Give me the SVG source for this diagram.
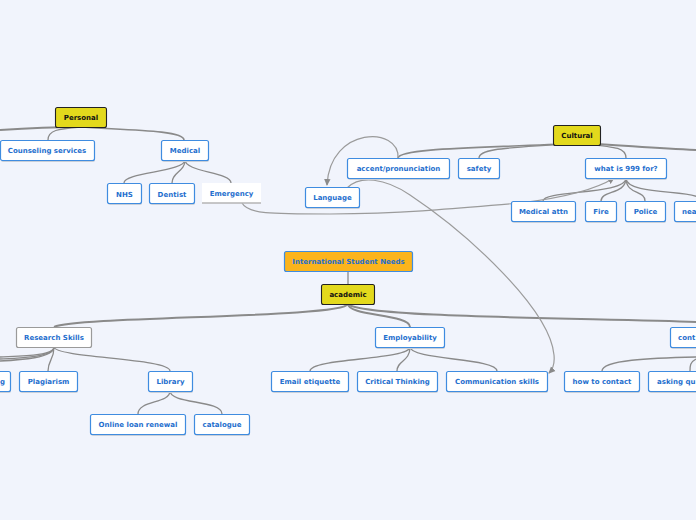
<svg xmlns="http://www.w3.org/2000/svg" width="696" height="520" viewBox="0 0 696 520">
<style>
.bg{fill:#f1f4fc}
.n rect{fill:#fff;stroke:#3f8ce0;stroke-width:1.2}
.n text{font-family:"DejaVu Sans",Verdana,sans-serif;font-weight:bold;font-size:7px;fill:#1f6fce;text-anchor:middle}
.y rect{fill:#e3d91c;stroke:#222;stroke-width:1.1}
.y text{fill:#111}
.o rect{fill:#fbb41c;stroke:#3f8ce0}
.g rect{stroke:#9a9a9a}
.c path{fill:none;stroke:#8a8a8a;stroke-width:1.3}
.c .t{stroke-width:2}
.c .m{stroke-width:1.6}
.c .x{stroke:#9b9b9b;stroke-width:1.2;marker-end:url(#ar)}
</style>
<defs>
<marker id="ar" markerWidth="8" markerHeight="8" refX="6" refY="4" orient="auto" markerUnits="userSpaceOnUse">
<path d="M0,0.8 L7,4 L0,7.2 Z" fill="#8a8a8a"/>
</marker>
</defs>
<rect class="bg" width="696" height="520"/>
<g id="connectors" class="c">
<path class="t" d="M0,130 C30,128 55,127 80,127"/>
<path d="M80,127 C58,129 48,130 48,140"/>
<path class="m" d="M80,127 C125,130 184,130 184,140"/>
<path d="M185,160 C185,172 124,172 124,183"/>
<path d="M185,160 C185,172 172,172 172,183"/>
<path d="M185,160 C185,172 231,172 231,183"/>
<path class="m" d="M577,143 C500,148 400,147 398,158"/>
<path d="M577,143 C520,148 479,147 479,158"/>
<path d="M577,143 C615,147 626,147 626,158"/>
<path class="t" d="M577,143 C620,145 650,148 696,150"/>
<path d="M626,178 C626,195 543,190 543,201"/>
<path d="M626,178 C626,195 601,190 601,201"/>
<path d="M626,178 C626,195 645,190 645,201"/>
<path d="M626,178 C626,195 690,190 700,198"/>
<path d="M348,271 L348,284"/>
<path class="t" d="M348,304 C342,318 80,316 54,327"/>
<path class="t" d="M348,304 C348,316 410,314 410,327"/>
<path class="t" d="M348,304 C360,318 600,318 696,322"/>
<path d="M54,347 C54,356 20,356 0,357"/>
<path d="M54,347 C54,357 20,358 0,359"/>
<path d="M54,347 C54,358 20,360 0,361"/>
<path d="M54,347 C54,360 48,360 48,371"/>
<path d="M54,347 C56,358 170,358 170,371"/>
<path d="M170,391 C170,404 138,400 138,414"/>
<path d="M170,391 C170,404 222,400 222,414"/>
<path d="M410,347 C410,360 310,358 310,371"/>
<path d="M410,347 C410,362 397,360 397,371"/>
<path d="M410,347 C410,360 497,358 497,371"/>
<path d="M696,357 C650,358 602,360 602,371"/>
<path d="M696,359 C690,362 690,366 690,371"/>
<path class="x" d="M242,203 C248,214 270,214 330,214 C420,213 470,207 520,203 C570,197 598,188 614,178"/>
<path class="x" d="M398,158 C400,126 330,126 327,185"/>
<path class="x" d="M347,188 C360,175 385,178 410,195 C470,235 550,310 554,355 C555,365 552,370 549,373"/>
</g>
<g id="personal" class="n y"><rect x="55.5" y="107.5" width="51" height="20" rx="2"/><text x="81" y="120">Personal</text></g>
<g id="counseling" class="n"><rect x="1" y="142" width="94" height="20" rx="2" style="fill:#c9cfd8;stroke:none"/><rect x="0.5" y="140.5" width="94" height="20" rx="2"/><text x="47" y="153">Counseling services</text></g>
<g id="medical" class="n"><rect x="162" y="142" width="47" height="20" rx="2" style="fill:#c9cfd8;stroke:none"/><rect x="161.5" y="140.5" width="47" height="20" rx="2"/><text x="185" y="153">Medical</text></g>
<g id="nhs" class="n"><rect x="108" y="185" width="34" height="20" rx="2" style="fill:#c9cfd8;stroke:none"/><rect x="107.5" y="183.5" width="34" height="20" rx="2"/><text x="124.5" y="196.5">NHS</text></g>
<g id="dentist" class="n"><rect x="150" y="185" width="45" height="20" rx="2" style="fill:#c9cfd8;stroke:none"/><rect x="149.5" y="183.5" width="45" height="20" rx="2"/><text x="172" y="196.5">Dentist</text></g>
<g id="emergency" class="n"><rect x="202" y="183" width="59" height="20" style="fill:#fff;stroke:none"/><line x1="202" y1="203" x2="261" y2="203" stroke="#b5b5b5" stroke-width="1.5"/><text x="231.5" y="195.5">Emergency</text></g>
<g id="cultural" class="n y"><rect x="553.5" y="125.5" width="47" height="20" rx="2"/><text x="577" y="138">Cultural</text></g>
<g id="accent" class="n"><rect x="348" y="160" width="102" height="20" rx="2" style="fill:#c9cfd8;stroke:none"/><rect x="347.5" y="158.5" width="102" height="20" rx="2"/><text x="398.5" y="171">accent/pronunciation</text></g>
<g id="safety" class="n"><rect x="459" y="160" width="41" height="20" rx="2" style="fill:#c9cfd8;stroke:none"/><rect x="458.5" y="158.5" width="41" height="20" rx="2"/><text x="479" y="171">safety</text></g>
<g id="what999" class="n"><rect x="586" y="160" width="81" height="20" rx="2" style="fill:#c9cfd8;stroke:none"/><rect x="585.5" y="158.5" width="81" height="20" rx="2"/><text x="626" y="171">what is 999 for?</text></g>
<g id="language" class="n"><rect x="306" y="189" width="54" height="20" rx="2" style="fill:#c9cfd8;stroke:none"/><rect x="305.5" y="187.5" width="54" height="20" rx="2"/><text x="332.5" y="200">Language</text></g>
<g id="medattn" class="n"><rect x="512" y="203" width="64" height="20" rx="2" style="fill:#c9cfd8;stroke:none"/><rect x="511.5" y="201.5" width="64" height="20" rx="2"/><text x="543.5" y="214">Medical attn</text></g>
<g id="fire" class="n"><rect x="586" y="203" width="31" height="20" rx="2" style="fill:#c9cfd8;stroke:none"/><rect x="585.5" y="201.5" width="31" height="20" rx="2"/><text x="601" y="214">Fire</text></g>
<g id="police" class="n"><rect x="626" y="203" width="40" height="20" rx="2" style="fill:#c9cfd8;stroke:none"/><rect x="625.5" y="201.5" width="40" height="20" rx="2"/><text x="645.5" y="214">Police</text></g>
<g id="nea" class="n"><rect x="675" y="203" width="60" height="20" rx="2" style="fill:#c9cfd8;stroke:none"/><rect x="674.5" y="201.5" width="60" height="20" rx="2"/><text x="682" y="214" style="text-anchor:start">nea</text></g>
<g id="root" class="n o"><rect x="284.5" y="251.5" width="128" height="20" rx="2"/><text x="348.5" y="264">International Student Needs</text></g>
<g id="academic" class="n y"><rect x="321.5" y="284.5" width="53" height="20" rx="2"/><text x="348" y="297">academic</text></g>
<g id="research" class="n g"><rect x="16.5" y="327.5" width="75" height="20" rx="2"/><text x="54" y="340">Research Skills</text></g>
<g id="employability" class="n"><rect x="376" y="329" width="69" height="20" rx="2" style="fill:#c9cfd8;stroke:none"/><rect x="375.5" y="327.5" width="69" height="20" rx="2"/><text x="410" y="340">Employability</text></g>
<g id="cont" class="n"><rect x="671" y="329" width="40" height="20" rx="2" style="fill:#c9cfd8;stroke:none"/><rect x="670.5" y="327.5" width="40" height="20" rx="2"/><text x="678" y="340" style="text-anchor:start">cont</text></g>
<g id="gnode" class="n"><rect x="-19" y="373" width="30" height="20" rx="2" style="fill:#c9cfd8;stroke:none"/><rect x="-19.5" y="371.5" width="30" height="20" rx="2"/><text x="5" y="384" style="text-anchor:end">g</text></g>
<g id="plagiarism" class="n"><rect x="20" y="373" width="58" height="20" rx="2" style="fill:#c9cfd8;stroke:none"/><rect x="19.5" y="371.5" width="58" height="20" rx="2"/><text x="48.5" y="384">Plagiarism</text></g>
<g id="library" class="n"><rect x="149" y="373" width="44" height="20" rx="2" style="fill:#c9cfd8;stroke:none"/><rect x="148.5" y="371.5" width="44" height="20" rx="2"/><text x="170.5" y="384">Library</text></g>
<g id="loan" class="n"><rect x="91" y="416" width="95" height="20" rx="2" style="fill:#c9cfd8;stroke:none"/><rect x="90.5" y="414.5" width="95" height="20" rx="2"/><text x="138" y="427">Online loan renewal</text></g>
<g id="catalogue" class="n"><rect x="195" y="416" width="55" height="20" rx="2" style="fill:#c9cfd8;stroke:none"/><rect x="194.5" y="414.5" width="55" height="20" rx="2"/><text x="222" y="427">catalogue</text></g>
<g id="email" class="n"><rect x="272" y="373" width="77" height="20" rx="2" style="fill:#c9cfd8;stroke:none"/><rect x="271.5" y="371.5" width="77" height="20" rx="2"/><text x="310" y="384">Email etiquette</text></g>
<g id="critical" class="n"><rect x="358" y="373" width="80" height="20" rx="2" style="fill:#c9cfd8;stroke:none"/><rect x="357.5" y="371.5" width="80" height="20" rx="2"/><text x="397.5" y="384">Critical Thinking</text></g>
<g id="communication" class="n"><rect x="447" y="373" width="101" height="20" rx="2" style="fill:#c9cfd8;stroke:none"/><rect x="446.5" y="371.5" width="101" height="20" rx="2"/><text x="497" y="384">Communication skills</text></g>
<g id="howto" class="n"><rect x="565" y="373" width="75" height="20" rx="2" style="fill:#c9cfd8;stroke:none"/><rect x="564.5" y="371.5" width="75" height="20" rx="2"/><text x="602" y="384">how to contact</text></g>
<g id="asking" class="n"><rect x="649" y="373" width="60" height="20" rx="2" style="fill:#c9cfd8;stroke:none"/><rect x="648.5" y="371.5" width="60" height="20" rx="2"/><text x="657" y="384" style="text-anchor:start">asking qu</text></g>
</svg>
